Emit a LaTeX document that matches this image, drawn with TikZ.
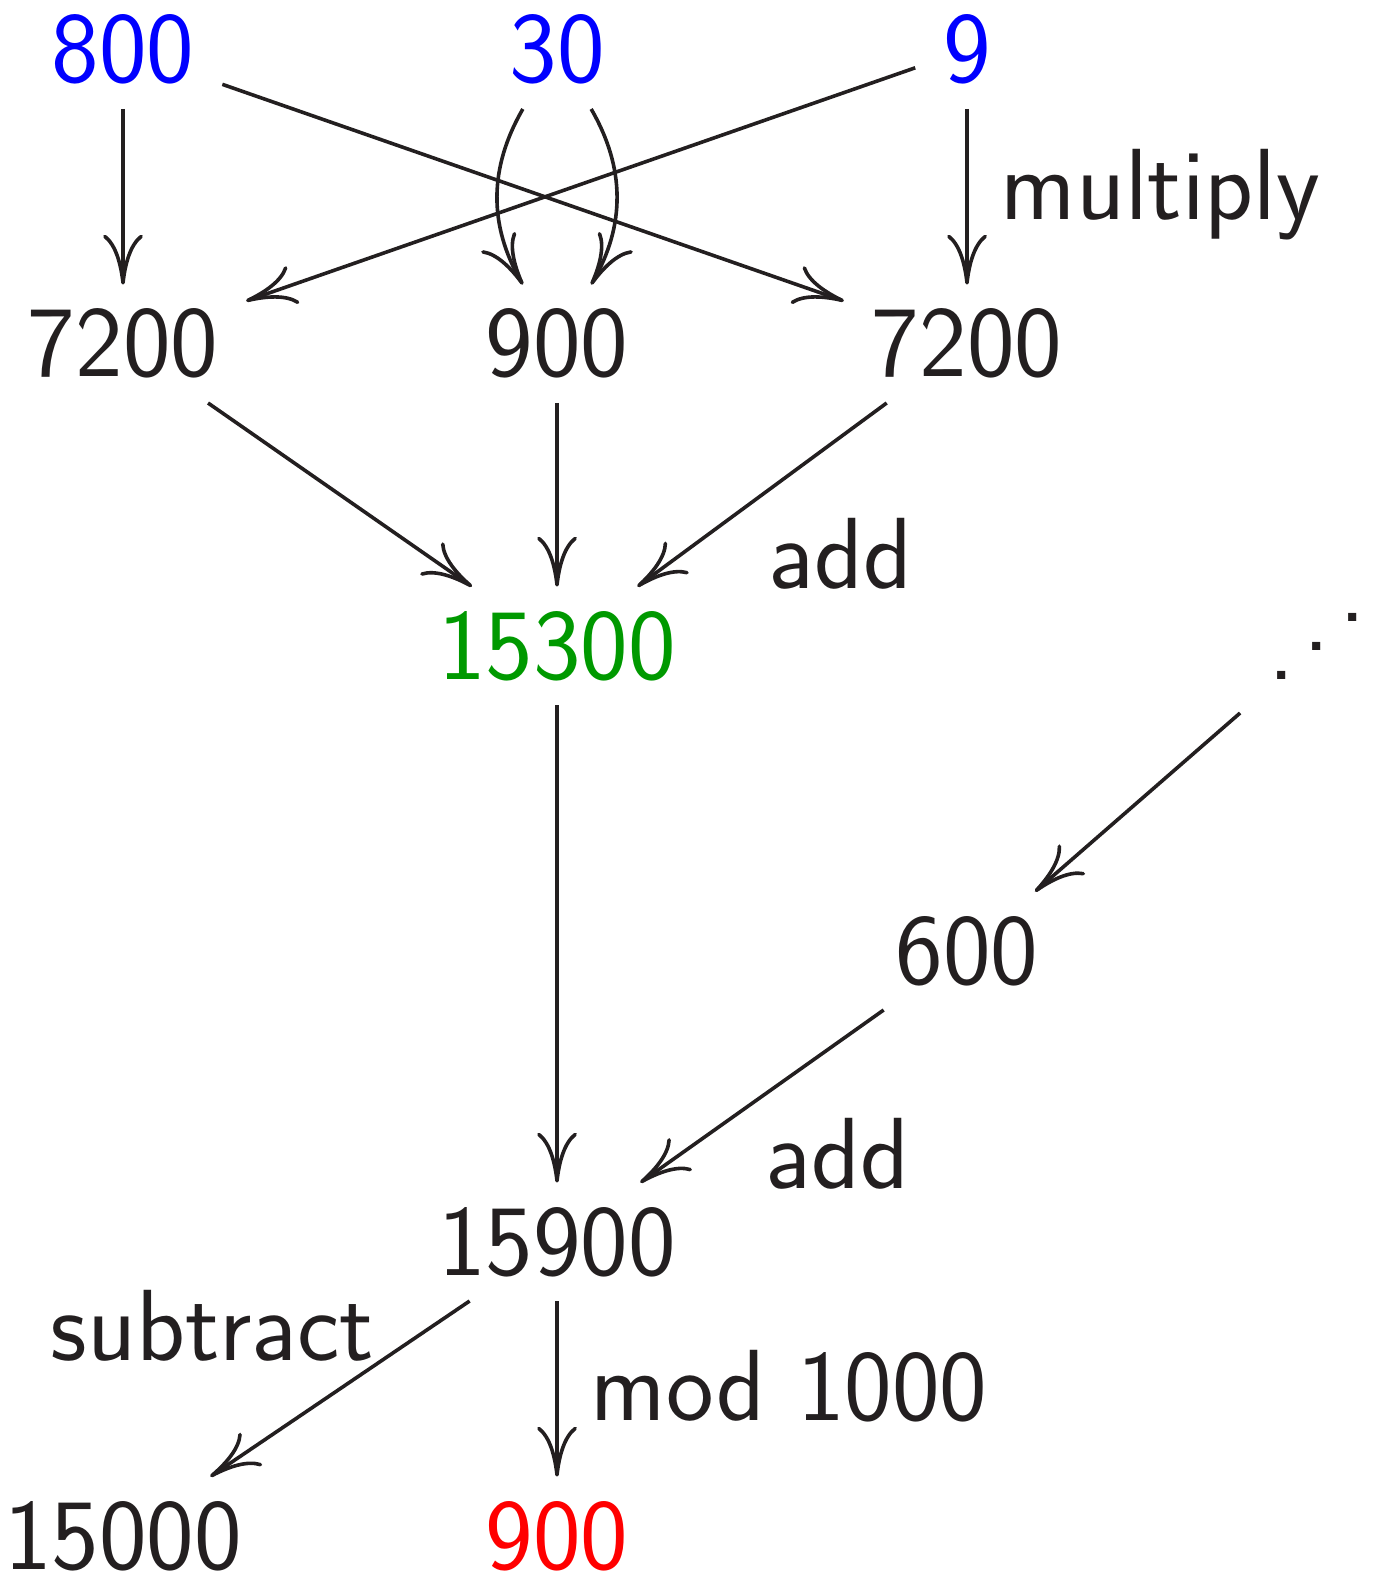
\documentclass[tikz,border=0pt]{standalone}
\usetikzlibrary{arrows.meta}
\definecolor{ink}{HTML}{231F20}
\definecolor{dgreen}{RGB}{0,153,0}
\begin{document}
\begin{tikzpicture}[x=0.25pt,y=-0.25pt,
  font=\sffamily\fontsize{25.3}{30}\selectfont,
  num/.style={inner xsep=7pt, inner ysep=6.5pt, outer sep=0pt, text height=16.6pt, text depth=0pt, anchor=base, text=ink},
  lab/.style={inner sep=0pt, anchor=base west, text=ink},
  ar/.style={draw=ink, line width=0.9pt, -{Computer Modern Rightarrow[length=12.5pt,width=10pt]}}
]
\useasboundingbox (0,0) rectangle (1372,1571);
% row 1
\node[num,text=blue] (n800) at (123,83) {800};
\node[num,text=blue] (n30) at (557,83) {30};
\node[num,text=blue] (n9) at (967,83) {9};
% row 2
\node[num] (a7200) at (123,377) {7200};
\node[num] (b900) at (557,377) {900};
\node[num] (c7200) at (967,377) {7200};
% row 3
\node[num,text=dgreen] (s15300) at (557,679) {15300};
\node[inner sep=0pt, outer sep=0pt, minimum width=45pt, minimum height=33.5pt, text=ink] (dots) at (1317,646)
  {\raisebox{-7.25pt}{.}\kern2.2pt.\kern2.2pt\raisebox{7.25pt}{.}};
% row 4
\node[num] (n600) at (967,984) {600};
% row 5
\node[num] (s15900) at (557,1275) {15900};
% row 6
\node[num] (r15000) at (123,1569) {15000};
\node[num,text=red] (r900) at (557,1569) {900};
% labels
\node[lab] (lmul) at (1000,220) {multiply};
\node[lab] (ladd1) at (768,588) {add};
\node[lab] (ladd2) at (765,1188) {add};
\node[lab] (lsub) at (50,1360) {subtract};
\node[lab] (lmod) at (590,1420) {mod 1000};
% arrows
\draw[ar] (n800) -- (a7200);
\draw[ar] (n800) -- (c7200);
\draw[ar] (n9) -- (a7200);
\draw[ar] (n9) -- (c7200);
\draw[ar] (n30) to[bend right=30] (b900);
\draw[ar] (n30) to[bend left=30] (b900);
\draw[ar] (a7200) -- (s15300);
\draw[ar] (b900) -- (s15300);
\draw[ar] (c7200) -- (s15300);
\draw[ar] (s15300) -- (s15900);
\draw[ar] (dots) -- (n600);
\draw[ar] (n600) -- (s15900);
\draw[ar] (s15900) -- (r15000);
\draw[ar] (s15900) -- (r900);
\end{tikzpicture}
\end{document}
